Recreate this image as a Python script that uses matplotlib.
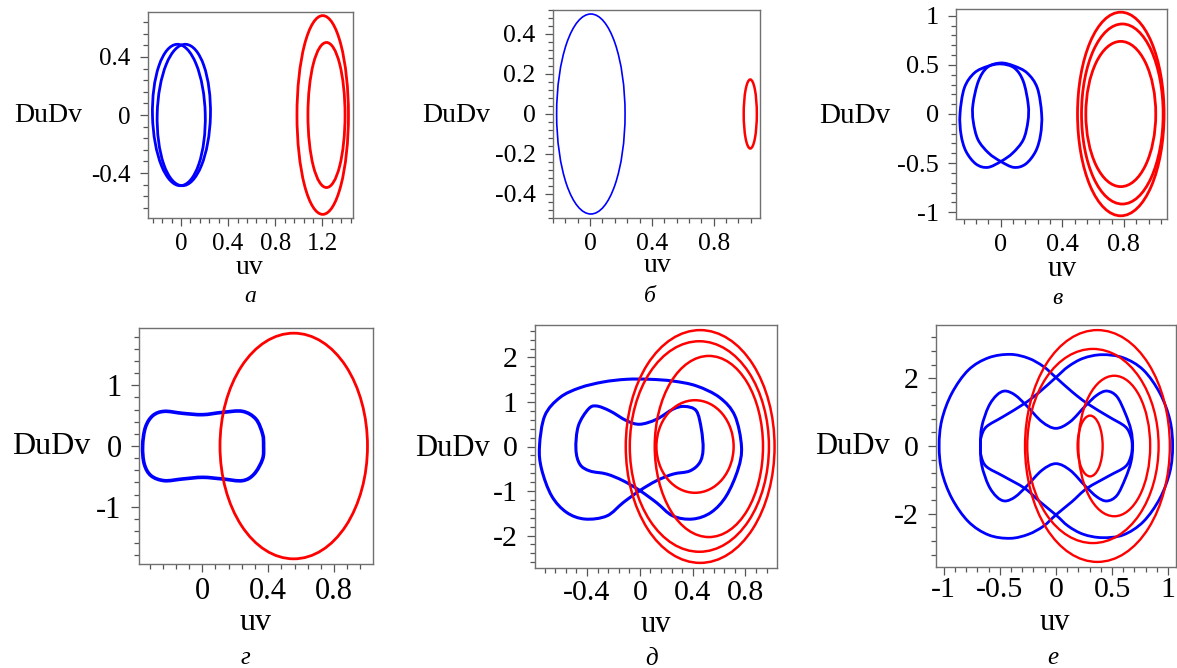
import numpy as np
import matplotlib
matplotlib.use('Agg')
import matplotlib.pyplot as plt
from matplotlib.patches import Ellipse, PathPatch
from matplotlib.path import Path
from matplotlib.ticker import MultipleLocator, FuncFormatter

W, H = 1177, 668
BLUE = '#0000ff'
RED = '#ff0000'

plt.rcParams['font.family'] = ['Liberation Serif', 'DejaVu Serif']
plt.rcParams['axes.unicode_minus'] = False

# ---- panel а: orbits as loops (centre, width, height, tilt) ----
a_blue_cx = [-0.018, 0.024]
a_blue_w = [0.448, 0.452]
a_blue_h = [0.975, 0.975]
a_blue_ang = [1.8, -1.8]
a_red_cx = [1.203, 1.235]
a_red_w = [0.437, 0.315]
a_red_h = [1.37, 1.0]

# ---- panel б ----
b_blue_cx = [0.005]
b_blue_w = [0.443]
b_blue_h = [1.0]
b_red_cx = [1.037]
b_red_w = [0.085]
b_red_h = [0.345]

# ---- panel в ----
v_blue1_x = [-0.264, -0.236, -0.171, -0.084, 0.002, 0.089, 0.147, 0.179,
             0.177, 0.147, 0.078, 0.002, -0.084, -0.16, -0.225, -0.257]
v_blue1_y = [0.0, 0.265, 0.418, 0.486, 0.51, 0.469, 0.333, 0.095,
             -0.075, -0.262, -0.398, -0.483, -0.544, -0.51, -0.381, -0.211]
v_blue2_x = [0.266, 0.238, 0.172, 0.086, 0.0, -0.087, -0.145, -0.18,
             -0.178, -0.147, -0.078, 0.0, 0.086, 0.162, 0.227, 0.259]
v_blue2_y = [0.0, 0.265, 0.418, 0.49, 0.52, 0.475, 0.333, 0.095,
             -0.075, -0.262, -0.398, -0.483, -0.544, -0.51, -0.381, -0.211]
v_red_cx = [0.78, 0.79, 0.78]
v_red_w = [0.562, 0.53, 0.454]
v_red_h = [2.075, 1.835, 1.48]

# ---- panel г ----
g_blue_x = [-0.362, -0.345, -0.30, -0.23, -0.119, 0.002, 0.123, 0.244, 0.325,
            0.366, 0.372, 0.366, 0.315, 0.244, 0.123, 0.002, -0.119, -0.23,
            -0.311, -0.352]
g_blue_y = [0.0, 0.307, 0.50, 0.57, 0.537, 0.515, 0.553, 0.57, 0.444,
            0.197, 0.0, -0.214, -0.46, -0.57, -0.542, -0.515, -0.542, -0.57,
            -0.488, -0.296]
g_red_cx = [0.555]
g_red_w = [0.895]
g_red_h = [3.71]

# ---- panel д ----
d_blue_x = [-0.76, -0.72, -0.605, -0.454, -0.277, -0.10, 0.076, 0.252, 0.43,
            0.605, 0.72, 0.77, 0.744, 0.655, 0.54, 0.40, 0.25, 0.126, 0.0,
            -0.126, -0.25, -0.378, -0.454, -0.484, -0.466, -0.39, -0.328,
            -0.227, -0.10, 0.0, 0.126, 0.252, 0.34, 0.428, 0.466, 0.479,
            0.454, 0.378, 0.252, 0.126, 0.0, -0.126, -0.25, -0.416, -0.555,
            -0.668, -0.744]
d_blue_y = [0.0, 0.69, 1.10, 1.32, 1.45, 1.51, 1.51, 1.47, 1.36,
            1.10, 0.69, 0.0, -0.51, -1.11, -1.48, -1.63, -1.56, -1.26, -0.99,
            -0.77, -0.62, -0.55, -0.40, -0.06, 0.46, 0.84, 0.91,
            0.80, 0.58, 0.50, 0.61, 0.84, 0.90, 0.80, 0.39, -0.06,
            -0.36, -0.55, -0.62, -0.77, -0.99, -1.26, -1.56, -1.63, -1.48,
            -1.11, -0.51]
d_red_cx = [0.457, 0.451, 0.523, 0.418]
d_red_w = [1.127, 1.054, 0.82, 0.585]
d_red_h = [5.23, 4.73, 4.07, 2.08]

# ---- panel е ----
e_blue1_x = [-1.04, -1.016, -0.927, -0.779, -0.60, -0.407, -0.244, -0.11, 0.0,
             0.143, 0.276, 0.47, 0.618, 0.668, 0.68, 0.668, 0.618, 0.47,
             0.276, 0.143, 0.0, -0.11, -0.244, -0.407, -0.60, -0.779, -0.927,
             -1.016]
e_blue1_y = [0.0, 0.767, 1.553, 2.24, 2.60, 2.70, 2.585, 2.34, 2.02,
             1.60, 1.26, 0.865, 0.57, 0.275, 0.0, -0.31, -0.61, -0.885,
             -1.25, -1.64, -2.03, -2.36, -2.60, -2.72, -2.62, -2.23, -1.54,
             -0.757]
e_blue2_x = [1.04, 1.016, 0.927, 0.779, 0.60, 0.41, 0.244, 0.11, 0.0,
             -0.143, -0.276, -0.47, -0.618, -0.665, -0.672, -0.665, -0.618,
             -0.47, -0.276, -0.143, 0.0, 0.11, 0.244, 0.41, 0.60, 0.779, 0.927,
             1.016]
e_blue2_y = [0.0, 0.767, 1.553, 2.24, 2.60, 2.69, 2.585, 2.34, 2.02,
             1.60, 1.26, 0.865, 0.57, 0.275, 0.0, -0.31, -0.61,
             -0.885, -1.25, -1.64, -2.03, -2.36, -2.60, -2.70, -2.62, -2.23,
             -1.54, -0.757]
e_blue3_x = [-0.66, -0.60, -0.526, -0.452, -0.363, -0.259, -0.125, 0.0, 0.128,
             0.262, 0.366, 0.455, 0.544, 0.618, 0.669, 0.684, 0.669, 0.618,
             0.544, 0.455, 0.366, 0.262, 0.128, 0.0, -0.125, -0.259, -0.363,
             -0.452, -0.526, -0.60, -0.66, -0.672]
e_blue3_y = [0.57, 1.16, 1.50, 1.62, 1.50, 1.18, 0.717, 0.52, 0.717,
             1.18, 1.50, 1.62, 1.455, 0.963, 0.47, 0.0, -0.47, -0.963,
             -1.455, -1.62, -1.50, -1.18, -0.717, -0.52, -0.717, -1.18, -1.50,
             -1.62, -1.50, -1.16, -0.57, 0.0]
e_red_cx = [0.37, 0.33, 0.52, 0.305]
e_red_w = [1.29, 1.17, 0.64, 0.223]
e_red_h = [6.83, 5.72, 4.14, 1.79]


def closed_curve(xs, ys):
    # smooth closed path through the read points (Catmull-Rom as Bezier)
    pts = np.column_stack([xs, ys])
    n = len(pts)
    verts = [pts[0]]
    codes = [Path.MOVETO]
    for i in range(n):
        p0, p1 = pts[i - 1], pts[i]
        p2, p3 = pts[(i + 1) % n], pts[(i + 2) % n]
        verts += [p1 + (p2 - p0) / 6, p2 - (p3 - p1) / 6, p2]
        codes += [Path.CURVE4] * 3
    return Path(verts, codes)


def add_curve(ax, xs, ys, color, lw):
    ax.add_patch(PathPatch(closed_curve(xs, ys), fill=False, ec=color, lw=lw))


def add_loops(ax, cx, w, h, color, lw, ang=None):
    for i in range(len(cx)):
        a = 0 if ang is None else ang[i]
        ax.add_patch(Ellipse((cx[i], 0), w[i], h[i], angle=a, fill=False,
                             ec=color, lw=lw))


def fmt(v, pos):
    if abs(v) < 1e-9:
        return '0'
    return '%g' % round(v, 6)


def make_axes(rect, xlim, ylim, xmaj, ymaj, fs, xpad=5):
    l, t, r, b = rect
    ax = fig.add_axes([l / W, 1 - b / H, (r - l) / W, (b - t) / H])
    ax.set_xlim(xlim)
    ax.set_ylim(ylim)
    ax.xaxis.set_major_locator(MultipleLocator(xmaj))
    ax.xaxis.set_minor_locator(MultipleLocator(xmaj / 5))
    ax.yaxis.set_major_locator(MultipleLocator(ymaj))
    ax.yaxis.set_minor_locator(MultipleLocator(ymaj / 5))
    ax.xaxis.set_major_formatter(FuncFormatter(fmt))
    ax.yaxis.set_major_formatter(FuncFormatter(fmt))
    ax.tick_params(which='both', direction='out', top=False, right=False,
                   color='#555555', width=0.9, labelsize=fs)
    ax.tick_params(which='major', length=5.5)
    ax.tick_params(which='minor', length=3.5)
    ax.tick_params(axis='y', pad=7)
    ax.tick_params(axis='x', pad=xpad)
    for s in ax.spines.values():
        s.set_color('#707070')
        s.set_linewidth(1.0)
    return ax


def label(px, py, s, fs, ha='center', style='normal'):
    fig.text(px / W, 1 - py / H, s, ha=ha, va='center', fontsize=fs,
             fontstyle=style)


fig = plt.figure(figsize=(W / 100, H / 100), dpi=100)

# а
ax = make_axes((148, 12, 353, 218), (-0.28, 1.46), (-0.71, 0.71), 0.4, 0.4, 18)
add_loops(ax, a_blue_cx, a_blue_w, a_blue_h, BLUE, 2.0, a_blue_ang)
add_loops(ax, a_red_cx, a_red_w, a_red_h, RED, 2.0)
label(82, 116, 'DuDv', 20, ha='right')
label(250, 268, 'uv', 20)
label(250, 297, 'а', 17, style='italic')

# б
ax = make_axes((553, 10, 760, 218), (-0.24, 1.10), (-0.52, 0.52), 0.4, 0.2, 18.5)
add_loops(ax, b_blue_cx, b_blue_w, b_blue_h, BLUE, 1.2)
add_loops(ax, b_red_cx, b_red_w, b_red_h, RED, 1.8)
label(490, 116, 'DuDv', 20, ha='right')
label(657, 265, 'uv', 20)
label(650, 297, 'б', 17, style='italic')

# в
ax = make_axes((956, 9, 1167, 219), (-0.29, 1.08), (-1.07, 1.07), 0.4, 0.5, 19)
add_curve(ax, v_blue1_x, v_blue1_y, BLUE, 2.0)
add_curve(ax, v_blue2_x, v_blue2_y, BLUE, 2.0)
add_loops(ax, v_red_cx, v_red_w, v_red_h, RED, 2.0)
label(890, 116, 'DuDv', 21, ha='right')
label(1062, 269, 'uv', 21)
label(1057, 298, 'в', 17, style='italic')

# г
ax = make_axes((139, 328, 373, 564), (-0.384, 1.036), (-1.94, 1.94), 0.4, 1, 22, xpad=4)
add_curve(ax, g_blue_x, g_blue_y, BLUE, 2.6)
add_loops(ax, g_red_cx, g_red_w, g_red_h, RED, 2.0)
label(90, 447, 'DuDv', 23, ha='right')
label(256, 622, 'uv', 23)
label(245, 658, 'г', 18, style='italic')

# д
ax = make_axes((535, 325, 777, 568), (-0.794, 1.039), (-2.73, 2.73), 0.4, 1, 21.5, xpad=3)
add_curve(ax, d_blue_x, d_blue_y, BLUE, 2.2)
add_loops(ax, d_red_cx, d_red_w, d_red_h, RED, 1.8)
label(490, 448, 'DuDv', 22, ha='right')
label(656, 624, 'uv', 22)
label(652, 659, 'д', 18, style='italic')

# е
ax = make_axes((936, 325, 1176, 567), (-1.068, 1.07), (-3.565, 3.565), 0.5, 2, 21.5, xpad=2)
add_curve(ax, e_blue1_x, e_blue1_y, BLUE, 2.0)
add_curve(ax, e_blue2_x, e_blue2_y, BLUE, 2.0)
add_curve(ax, e_blue3_x, e_blue3_y, BLUE, 2.0)
add_loops(ax, e_red_cx, e_red_w, e_red_h, RED, 1.7)
label(890, 447, 'DuDv', 22, ha='right')
label(1055, 622, 'uv', 22)
label(1053, 658, 'е', 18, style='italic')

fig.savefig('out.png', dpi=100)
